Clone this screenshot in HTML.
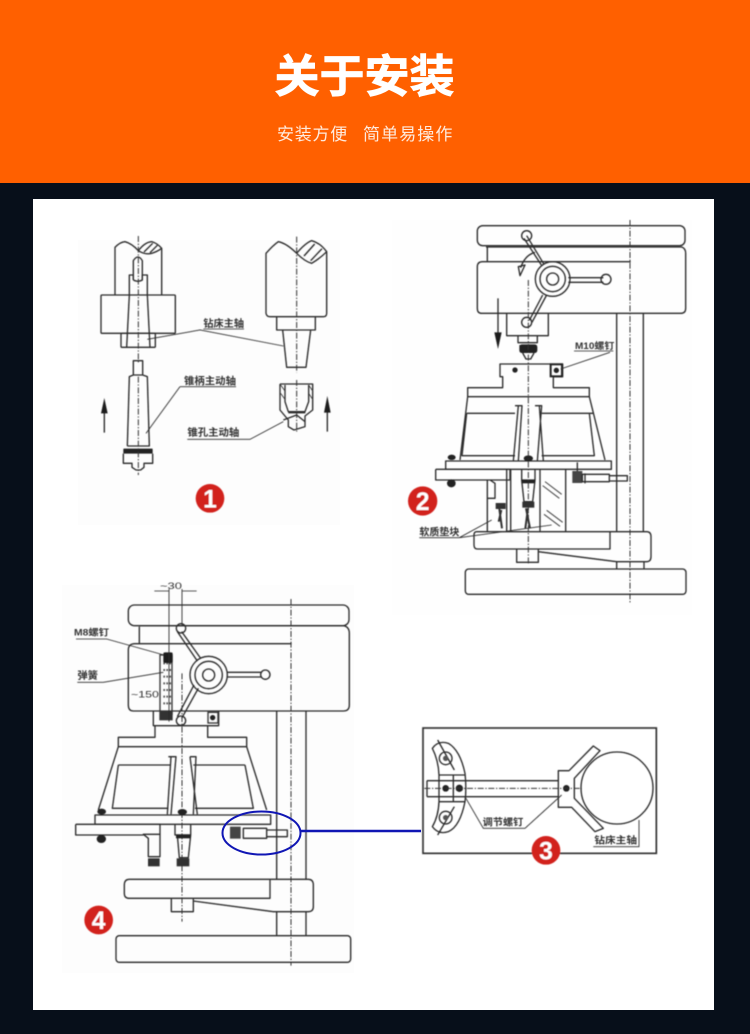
<!DOCTYPE html>
<html><head><meta charset="utf-8"><style>
html,body{margin:0;padding:0;background:#070f1a}
svg{display:block}
.l{fill:none;stroke:#2a2a2a;stroke-width:4;stroke-linejoin:round}
.t{stroke:#2a2a2a;stroke-width:2.6;fill:none}
.c{stroke:#333;stroke-width:3;stroke-dasharray:18 5 4 5;fill:none}
.x{font-family:"Liberation Sans","Noto Sans CJK SC",sans-serif;font-weight:700;fill:#333}
.n{font-family:"Liberation Sans",sans-serif;font-weight:400;fill:#333}
.b{font-family:"Liberation Sans",sans-serif;font-weight:700;fill:#fff;text-anchor:middle}
</style></head><body>
<svg width="750" height="1034" viewBox="0 0 750 1034" xmlns="http://www.w3.org/2000/svg">
<defs><filter id="s" x="-5%" y="-5%" width="110%" height="110%"><feGaussianBlur stdDeviation="0.45"/></filter></defs>
<rect width="750" height="1034" fill="#070f1a"/>
<rect width="750" height="183" fill="#ff6000"/>
<text x="364.5" y="92" text-anchor="middle" font-size="45" font-weight="700" fill="#fff" stroke="#fff" stroke-width=".8" font-family="'Noto Sans CJK SC',sans-serif">关于安装</text>
<text x="277" y="140" font-size="17" letter-spacing=".75" fill="#ffeadd" font-family="'Noto Sans CJK SC',sans-serif" font-weight="400">安装方便</text>
<text x="363" y="140" font-size="17" letter-spacing="1.1" fill="#ffeadd" font-family="'Noto Sans CJK SC',sans-serif" font-weight="400">简单易操作</text>
<rect x="33" y="199" width="681" height="811" fill="#fff"/>
<rect x="78" y="240" width="262" height="285" fill="#fdfdfd"/>
<rect x="62" y="585" width="292" height="388" fill="#fdfdfd"/>
<rect x="392" y="220" width="300" height="395" fill="#fefefe"/>

<g filter="url(#s)">
<!-- Diagram 1 -->
<g transform="translate(70,230) scale(.33333)">
<path class="l" d="M135 195V52Q150 36 165 35Q185 40 205 62Q225 75 245 70Q262 65 275 55V195"/>
<path class="l" d="M205 62Q225 36 245 35Q262 40 275 55M222 66l26-26M240 68l22-22"/>
<rect class="l" x="93" y="195" width="223" height="115" rx="3"/>
<rect class="l" x="153" y="310" width="103" height="42" rx="3"/>
<path class="l" d="M178 195V135H190V150M232 195V135H217V150M178 195L170 352M232 195L240 352"/>
<path class="l" d="M190 150V92Q204 70 217 92V150Q204 158 190 150"/>
<path class="c" d="M205 18V400"/>
<path class="l" d="M190 435V392H218V435M172 648L178 440L190 435H218L232 440L238 648H172"/>
<rect x="160" y="656" width="88" height="15" rx="2" fill="#222"/>
<path class="l" d="M160 671V700H186V712L198 720H212L222 712V700H248V671"/>
<path class="c" d="M205 440V735"/>
<path class="l" d="M588 70V250Q590 260 600 260H760Q770 260 770 250V65Q750 85 725 100Q705 95 680 70Q650 40 625 35Q610 45 588 70Z"/>
<path class="l" d="M680 70Q705 40 725 32Q750 38 770 65M702 78l32-36M722 92l34-36"/>
<path class="l" d="M620 260V300H736V260"/>
<path class="l" d="M638 300L650 412H708L722 300"/>
<path class="c" d="M680 20V428"/>
<path class="l" d="M630 462H728V540L705 558V590L672 600L655 590V570L630 540V462"/>
<path class="l" d="M645 465V515L655 545H705L716 515V465"/>
<path class="l" d="M640 570L680 555L705 575M655 548H706"/>
<path d="M632 465l13 18M632 490l13 18M716 465l12 18M716 490l12 18" stroke="#333" stroke-width="2.5"/>
<path class="c" d="M680 450V605"/>
<path class="t" d="M232 328L390 300L640 348M400 297H522M330 470L228 610M330 470H498M352 628H540L640 575"/>
<path class="l" d="M103 608V530M772 605V530"/>
<path d="M103 504L93 550H113ZM772 498L762 548H782Z" fill="#1a1a1a"/>
<text class="x" x="400" y="291" font-size="30" textLength="122" lengthAdjust="spacingAndGlyphs">钻床主轴</text>
<text class="x" x="342" y="463" font-size="30" textLength="156" lengthAdjust="spacingAndGlyphs">锥柄主动轴</text>
<text class="x" x="352" y="618" font-size="30" textLength="156" lengthAdjust="spacingAndGlyphs">锥孔主动轴</text>
<circle cx="420" cy="805" r="43" fill="#d2201f"/>
<text class="b" x="420" y="832" font-size="74">1</text>
</g>

<!-- Diagram 2 -->
<g transform="translate(400,215) scale(.33333)">
<rect class="l" x="232" y="32" width="623" height="60" rx="16"/>
<path class="l" d="M262 95V140M258 96H845Q857 100 857 115V280Q857 295 842 295H245Q232 295 232 280V155Q232 140 248 140H692"/>
<path class="l" d="M650 295V948M730 295V948"/>
<path class="c" d="M690 15V1165"/>
<path class="l" d="M320 295V362H445V295"/>
<path class="l" d="M354 362V383H412V362M358 392H410"/>
<rect x="358" y="388" width="54" height="26" rx="8" fill="#222"/>
<path class="l" d="M368 414L378 432H392L402 414"/>
<path d="M380 62L432 148M372 70L424 150M428 240L388 316M440 240L396 322" stroke="#2a2a2a" stroke-width="4" fill="none"/>
<path class="l" d="M505 188H610M505 202H610"/>
<circle class="l" cx="458" cy="192" r="52" fill="#fff"/>
<circle class="l" cx="458" cy="192" r="38" fill="#fff"/>
<circle class="l" cx="458" cy="192" r="18" fill="#fff"/>
<circle class="l" cx="380" cy="62" r="15" fill="#fff"/>
<circle class="l" cx="618" cy="193" r="15" fill="#fff"/>
<circle class="l" cx="380" cy="322" r="15" fill="#fff"/>
<path class="l" d="M405 112Q375 120 362 158"/>
<path class="l" d="M355 155L375 150L360 182Z"/>
<path class="l" d="M294 250V380"/>
<path d="M294 402L283 352H305Z" fill="#1a1a1a"/>
<path class="l" d="M300 447H488V485H460V518H568V545H203V518H308V485H300Z"/>
<rect x="452" y="448" width="34" height="36" fill="none" stroke="#222" stroke-width="6"/>
<circle cx="469" cy="466" r="8" fill="#222"/>
<circle cx="345" cy="465" r="8" fill="#222"/>
<path class="l" d="M203 545L180 735M568 545L615 735M200 595H345M425 595H580M200 595L186 722H345M568 595L583 722H425"/>
<path class="l" d="M355 572L340 738M345 572H366L355 738M418 572L430 738M405 572H425L412 738"/>
<path class="l" d="M137 738H634V763H137Z"/>
<path class="l" d="M107 763H330V795H270L285 805V850H262M107 763V795H270"/>
<path class="l" d="M262 795V948M320 763V948M332 763V948M420 763V948M497 763V948"/>
<ellipse cx="155" cy="727" rx="12" ry="8" fill="#222"/>
<ellipse cx="385" cy="730" rx="14" ry="9" fill="#222"/>
<ellipse cx="154" cy="805" rx="13" ry="12" fill="#222"/>
<path class="l" d="M365 763V795H405V763M365 795L372 860H398L405 795"/>
<rect x="365" y="795" width="40" height="10" fill="#222"/>
<rect x="367" y="860" width="36" height="18" fill="#333"/>
<rect x="287" y="864" width="30" height="18" fill="#333"/>
<path d="M378 880L390 940M298 882L306 940M384 880L376 940M304 885L296 920" stroke="#333" stroke-width="6" fill="none"/>
<rect x="517" y="768" width="30" height="36" fill="#444"/>
<path class="l" d="M547 778H628V800H547ZM628 782H682V798H628M532 742V768M555 775V805"/>
<path d="M435 800l50 38M428 812l50 38M440 886l48 36M432 898l48 36" stroke="#444" stroke-width="3"/>
<path class="l" d="M630 950H740Q753 950 753 965V1025Q753 1040 740 1040H650L415 1010M230 950H630V1002H232Q222 1002 222 990V960Q222 950 230 950M350 1002V1042H415V1002"/>
<path class="l" d="M650 1040V1062M732 1040V1062"/>
<rect class="l" x="196" y="1062" width="662" height="76" rx="10"/>
<path class="c" d="M385 195V1050"/>
<path class="t" d="M482 462L630 412M522 408H640M58 968H178L275 915M178 968L455 930"/>
<text class="x" x="525" y="402" font-size="27" textLength="118" lengthAdjust="spacingAndGlyphs">M10螺钉</text>
<text class="x" x="58" y="962" font-size="30" textLength="120" lengthAdjust="spacingAndGlyphs">软质垫块</text>
<circle cx="68" cy="858" r="44" fill="#d2201f"/>
<text class="b" x="68" y="885" font-size="74">2</text>
</g>

<!-- Diagram 4 -->
<g transform="translate(60,575) scale(.33333)">
<rect class="l" x="205" y="90" width="662" height="62" rx="18"/>
<path class="l" d="M238 155V205M238 152H850Q868 155 868 175V390Q868 408 850 408H220Q205 408 205 390V225Q205 206 225 206H695"/>
<path class="l" d="M650 408V915M738 408V915"/>
<path class="c" d="M693 72V1172"/>
<path d="M365 170L422 250M352 170L412 258M415 340L365 430M402 330L352 425" stroke="#2a2a2a" stroke-width="4" fill="none"/>
<path class="l" d="M500 292H605M500 306H605"/>
<circle class="l" cx="446" cy="300" r="56" fill="#fff"/>
<circle class="l" cx="446" cy="300" r="41" fill="#fff"/>
<circle class="l" cx="446" cy="300" r="18" fill="#fff"/>
<circle class="l" cx="363" cy="160" r="14" fill="#fff"/>
<circle class="l" cx="616" cy="299" r="14" fill="#fff"/>
<circle class="l" cx="363" cy="437" r="14" fill="#fff"/>
<path class="l" d="M280 408V452H476V408M285 452V487H175V515H560V487H443V452"/>
<rect x="444" y="412" width="30" height="32" fill="none" stroke="#333" stroke-width="4"/>
<circle cx="458" cy="428" r="8" fill="#222"/>
<path d="M330 240H300V260M300 260V410M336 240V420" stroke="#333" stroke-width="4" fill="none"/>
<path d="M310 265h25M310 285h25M310 305h25M310 325h25M310 345h25M310 365h25M310 385h25" stroke="#555" stroke-width="6" stroke-dasharray="5 4"/>
<rect x="310" y="232" width="28" height="32" rx="5" fill="#1e1e1e"/>
<rect x="298" y="408" width="40" height="28" fill="#333"/>
<path class="t" d="M327 42V440M366 42V150M283 48H327M366 48H410"/>
<path class="c" d="M366 295V1040"/>
<path class="l" d="M175 515L115 705M560 515L620 705M175 570H330M400 570H555M175 570L157 700H325M555 570L580 700H405"/>
<path class="l" d="M333 545L322 718M325 545H348L333 718M390 545L412 718M390 545H408L400 718"/>
<path class="l" d="M105 720H632V748H105Z"/>
<path class="l" d="M47 748H300V778H250L265 790V845H300V748M47 748V780H250"/>
<ellipse cx="125" cy="710" rx="13" ry="9" fill="#222"/>
<ellipse cx="367" cy="711" rx="14" ry="9" fill="#222"/>
<ellipse cx="124" cy="792" rx="14" ry="12" fill="#222"/>
<path class="l" d="M345 748V780H392V748M352 780L358 848H385L392 780"/>
<rect x="348" y="778" width="44" height="12" fill="#222"/>
<rect x="264" y="850" width="35" height="24" fill="#333"/>
<rect x="350" y="850" width="38" height="24" fill="#333"/>
<rect x="510" y="755" width="32" height="36" fill="#444"/>
<path class="l" d="M550 760H620V790H550ZM620 765H682V785H620"/>
<path class="l" d="M630 913H745Q760 913 760 930V995Q760 1010 745 1010H640L400 978M208 913H630V970H208Q193 970 193 955V930Q193 913 208 913M334 970V1010H400V970"/>
<path class="l" d="M650 1010V1082M738 1010V1082"/>
<rect class="l" x="168" y="1082" width="704" height="80" rx="10"/>
<path class="t" d="M48 192H140L312 240M52 322H130L310 292"/>
<text class="x" x="42" y="182" font-size="27" textLength="105" lengthAdjust="spacingAndGlyphs">M8螺钉</text>
<text class="x" x="52" y="312" font-size="30" textLength="62" lengthAdjust="spacingAndGlyphs">弹簧</text>
<text class="n" x="300" y="42" font-size="28" textLength="66" lengthAdjust="spacingAndGlyphs">~30</text>
<text class="n" x="213" y="368" font-size="28" textLength="84" lengthAdjust="spacingAndGlyphs">~150</text>
<circle cx="116" cy="1035" r="43" fill="#d2201f"/>
<text class="b" x="116" y="1062" font-size="74">4</text>
</g>

<!-- Diagram 3 -->
<g transform="translate(415,720) scale(.33333)">
<rect x="24" y="24" width="700" height="376" fill="none" stroke="#333" stroke-width="5"/>
<path class="l" d="M36 182H430M36 230H430M36 182V230"/>
<path class="l" d="M52 85Q70 60 100 70Q135 90 150 160Q155 205 150 245Q135 320 100 335Q70 345 52 320Q70 290 72 245V165Q70 120 52 85Z" fill="#fff"/>
<path class="l" d="M72 165H150M72 245H150M115 165V245"/>
<path class="l" d="M68 60L118 150M68 345L118 260"/>
<circle class="l" cx="92" cy="115" r="19"/><circle cx="92" cy="115" r="8" fill="#555"/>
<circle class="l" cx="92" cy="293" r="19"/><circle cx="92" cy="293" r="8" fill="#555"/>
<circle cx="92" cy="205" r="10" fill="#222"/>
<circle cx="133" cy="205" r="11" fill="#222"/>
<path class="l" d="M430 152V262H470L540 335L565 325L478 235V175L555 92L535 78L462 152Z" fill="#fff"/>
<circle cx="454" cy="205" r="10" fill="#222"/>
<path class="c" d="M28 205H500"/>
<circle class="l" cx="606" cy="204" r="108" fill="#fff"/>
<path class="t" d="M150 230L205 325H330L440 225M535 380H672V300"/>
<text class="x" x="203" y="316" font-size="29" textLength="122" lengthAdjust="spacingAndGlyphs">调节螺钉</text>
<text class="x" x="538" y="371" font-size="29" textLength="128" lengthAdjust="spacingAndGlyphs">钻床主轴</text>
<circle cx="393" cy="391" r="43" fill="#d2201f"/>
<text class="b" x="393" y="418" font-size="74">3</text>
</g>
</g>

<ellipse cx="261.5" cy="833" rx="39" ry="21.5" fill="none" stroke="#1016b4" stroke-width="2"/>
<path d="M301 831H421" stroke="#1016b4" stroke-width="2.6" fill="none"/>
</svg>
</body></html>
